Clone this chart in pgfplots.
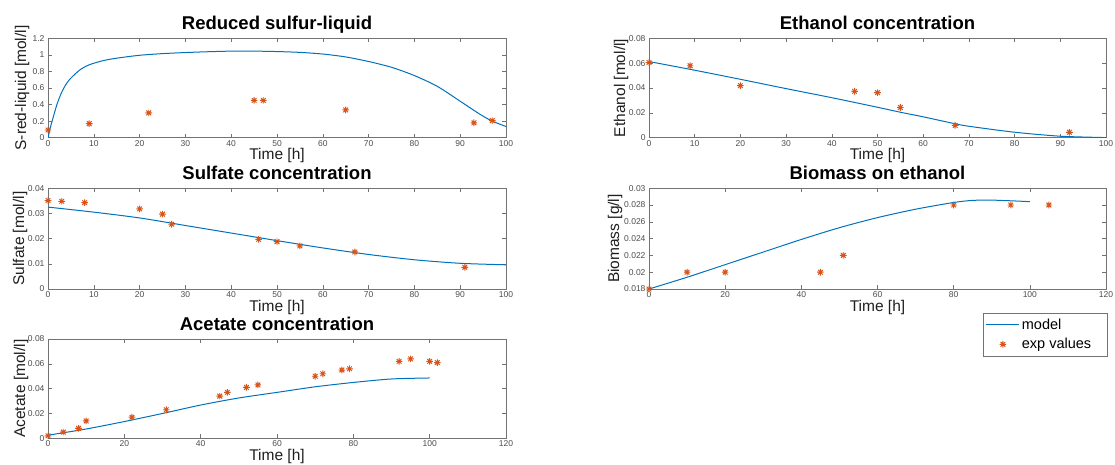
\documentclass[border=0pt]{standalone}
\usepackage{fontspec}
\setmainfont{Liberation Sans}
\usepackage{pgfplots}
\pgfplotsset{compat=1.18}
\definecolor{mblue}{rgb}{0,0.447,0.741}
\definecolor{morange}{rgb}{0.85,0.325,0.098}
\definecolor{axgray}{rgb}{0.45,0.45,0.45}
\definecolor{tkgray}{rgb}{0.3,0.3,0.3}
\definecolor{lbgray}{rgb}{0.12,0.12,0.12}
\pgfdeclareplotmark{mstar}{%
  \pgfpathmoveto{\pgfqpoint{-\pgfplotmarksize}{0pt}}\pgfpathlineto{\pgfqpoint{\pgfplotmarksize}{0pt}}%
  \pgfpathmoveto{\pgfqpoint{0pt}{-\pgfplotmarksize}}\pgfpathlineto{\pgfqpoint{0pt}{\pgfplotmarksize}}%
  \pgfpathmoveto{\pgfqpoint{-0.7071\pgfplotmarksize}{-0.7071\pgfplotmarksize}}\pgfpathlineto{\pgfqpoint{0.7071\pgfplotmarksize}{0.7071\pgfplotmarksize}}%
  \pgfpathmoveto{\pgfqpoint{-0.7071\pgfplotmarksize}{0.7071\pgfplotmarksize}}\pgfpathlineto{\pgfqpoint{0.7071\pgfplotmarksize}{-0.7071\pgfplotmarksize}}%
  \pgfusepathqstroke}
\pgfplotsset{
  every axis title shift=0pt,
  mstyle/.style={
    scale only axis, anchor=south west,
    axis line style={axgray, line width=0.6pt},
    every tick/.style={axgray, line width=0.6pt},
    tick align=inside, major tick length=4pt,
    tick label style={font=\fontsize{8.5}{10}\selectfont, text=tkgray},
    xticklabel style={inner sep=1pt, yshift=-1.3pt},
    /pgf/number format/assume math mode=true,
    /pgf/number format/fixed, /pgf/number format/precision=3,
    scaled ticks=false,
    title style={font=\fontsize{18.5}{20}\selectfont\bfseries, at={(axis description cs:0.5,1)}, anchor=base, yshift=8.5pt, inner sep=0pt},
    xlabel style={font=\fontsize{15.5}{17}\selectfont, text=lbgray, at={(axis description cs:0.5,0)}, anchor=base, yshift=-22pt, inner sep=0pt},
    ylabel style={font=\fontsize{15.5}{17}\selectfont, text=lbgray, anchor=base},
    xlabel={Time [h]},
  },
  model/.style={mblue, line width=1pt, smooth, tension=0.45, mark=none},
  expv/.style={morange, only marks, mark=mstar, mark size=3.3pt, line width=0.95pt},
}
\begin{document}
\begin{tikzpicture}
\useasboundingbox (0,0) rectangle (1115pt,464pt);

% Reduced sulfur-liquid (x 1e-3)
\begin{axis}[mstyle, at={(48pt,326.3pt)}, width=458pt, height=99.4pt,
  xmin=0, xmax=100, ymin=0, ymax=1.2,
  xtick={0,10,20,30,40,50,60,70,80,90,100},
  ytick={0,0.2,0.4,0.6,0.8,1,1.2},
  title={Reduced sulfur-liquid},
  ylabel={S-red-liquid [mol/l]},
  ylabel style={at={(axis description cs:-0.048,0.5)}}]
\addplot[model] coordinates {(0,0) (0.5,0.12) (1,0.22) (2,0.41) (3,0.55) (4,0.65) (5,0.72) (7,0.82) (9,0.88) (12,0.93) (15,0.96) (20,0.995) (25,1.015) (30,1.028) (35,1.038) (40,1.045) (45,1.045) (50,1.04) (55,1.03) (60,1.01) (65,0.975) (70,0.92) (75,0.85) (80,0.75) (85,0.62) (90,0.44) (93,0.33) (95,0.26) (97,0.2) (100,0.135)};
\addplot[expv] coordinates {(0,0.093) (9,0.17) (22,0.30) (45,0.45) (47,0.45) (65,0.335) (93,0.18) (97,0.206)};
\node[anchor=south west, font=\fontsize{8}{9}\selectfont, text=tkgray, inner sep=0pt] at (rel axis cs:0,1) [yshift=2.5pt, xshift=1pt] {×10\textsuperscript{−3}};
\end{axis}

% Sulfate
\begin{axis}[mstyle, at={(48pt,175pt)}, width=458pt, height=100.8pt,
  xmin=0, xmax=100, ymin=0, ymax=0.04,
  xtick={0,10,20,30,40,50,60,70,80,90,100},
  ytick={0,0.01,0.02,0.03,0.04},
  title={Sulfate concentration},
  ylabel={Sulfate [mol/l]},
  ylabel style={at={(axis description cs:-0.0524,0.5)}}]
\addplot[model] coordinates {(0,0.0325) (10,0.0305) (20,0.0282) (30,0.0252) (40,0.0222) (50,0.0192) (60,0.0163) (70,0.0137) (80,0.0116) (90,0.0102) (100,0.0096)};
\addplot[expv] coordinates {(0,0.0351) (3,0.0348) (8,0.0343) (20,0.0318) (25,0.0297) (27,0.0257) (46,0.0197) (50,0.0188) (55,0.0171) (67,0.0147) (91,0.0086)};
\end{axis}

% Acetate
\begin{axis}[mstyle, at={(48pt,25.7pt)}, width=458pt, height=99.3pt,
  xmin=0, xmax=120, ymin=0, ymax=0.08,
  xtick={0,20,40,60,80,100,120},
  ytick={0,0.02,0.04,0.06,0.08},
  title={Acetate concentration},
  ylabel={Acetate [mol/l]},
  ylabel style={at={(axis description cs:-0.0502,0.5)}}]
\addplot[model] coordinates {(0,0.0025) (10,0.0075) (20,0.0135) (30,0.0200) (40,0.0268) (50,0.0325) (60,0.0370) (70,0.0415) (80,0.0450) (90,0.0478) (100,0.0486)};
\addplot[expv] coordinates {(0,0.002) (4,0.005) (8,0.008) (10,0.014) (22,0.017) (31,0.023) (45,0.034) (47,0.037) (52,0.041) (55,0.043) (70,0.050) (72,0.052) (77,0.055) (79,0.056) (92,0.062) (95,0.064) (100,0.062) (102,0.061)};
\end{axis}

% Ethanol
\begin{axis}[mstyle, at={(649pt,326.3pt)}, width=457pt, height=99.4pt,
  xmin=0, xmax=100, ymin=0, ymax=0.08,
  xtick={0,10,20,30,40,50,60,70,80,90,100},
  ytick={0,0.02,0.04,0.06,0.08},
  title={Ethanol concentration},
  ylabel={Ethanol [mol/l]},
  ylabel style={at={(axis description cs:-0.0525,0.5)}}]
\addplot[model] coordinates {(0,0.0613) (10,0.0543) (20,0.0470) (30,0.0395) (40,0.0322) (50,0.0245) (55,0.0205) (60,0.0168) (67,0.0112) (70,0.0092) (80,0.0044) (90,0.0012) (100,0.0001)};
\addplot[expv] coordinates {(0,0.0605) (9,0.0579) (20,0.0419) (45,0.0373) (50,0.0363) (55,0.0243) (67,0.0099) (92,0.0043)};
\end{axis}

% Biomass
\begin{axis}[mstyle, at={(649pt,175pt)}, width=457pt, height=100.8pt,
  xmin=0, xmax=120, ymin=0.018, ymax=0.03,
  xtick={0,20,40,60,80,100,120},
  ytick={0.018,0.02,0.022,0.024,0.026,0.028,0.03},
  title={Biomass on ethanol},
  ylabel={Biomass [g/l]},
  ylabel style={at={(axis description cs:-0.0656,0.5)}},
  legend cell align=left,
  legend image code/.code={\draw[mark repeat=2,mark phase=2,#1] plot coordinates {(0pt,0pt) (16.5pt,0pt) (33pt,0pt)};},
  legend style={at={(axis description cs:1,0)}, anchor=north east, yshift=-24pt, xshift=1.5pt,
    draw=axgray, line width=0.6pt, font=\fontsize{14.5}{16}\selectfont,
    inner xsep=3pt, inner ysep=3.5pt, row sep=3.5pt}]
\addplot[model] coordinates {(0,0.018) (10,0.0194) (20,0.0209) (30,0.0224) (40,0.0239) (50,0.0253) (60,0.0265) (70,0.0275) (80,0.0283) (85,0.02855) (90,0.02858) (95,0.0285) (100,0.0284)};
\addlegendentry{model}
\addplot[expv] coordinates {(0,0.018) (10,0.020) (20,0.020) (45,0.020) (51,0.022) (80,0.028) (95,0.028) (105,0.028)};
\addlegendentry{exp values\hspace*{11pt}}
\end{axis}
\end{tikzpicture}
\end{document}
